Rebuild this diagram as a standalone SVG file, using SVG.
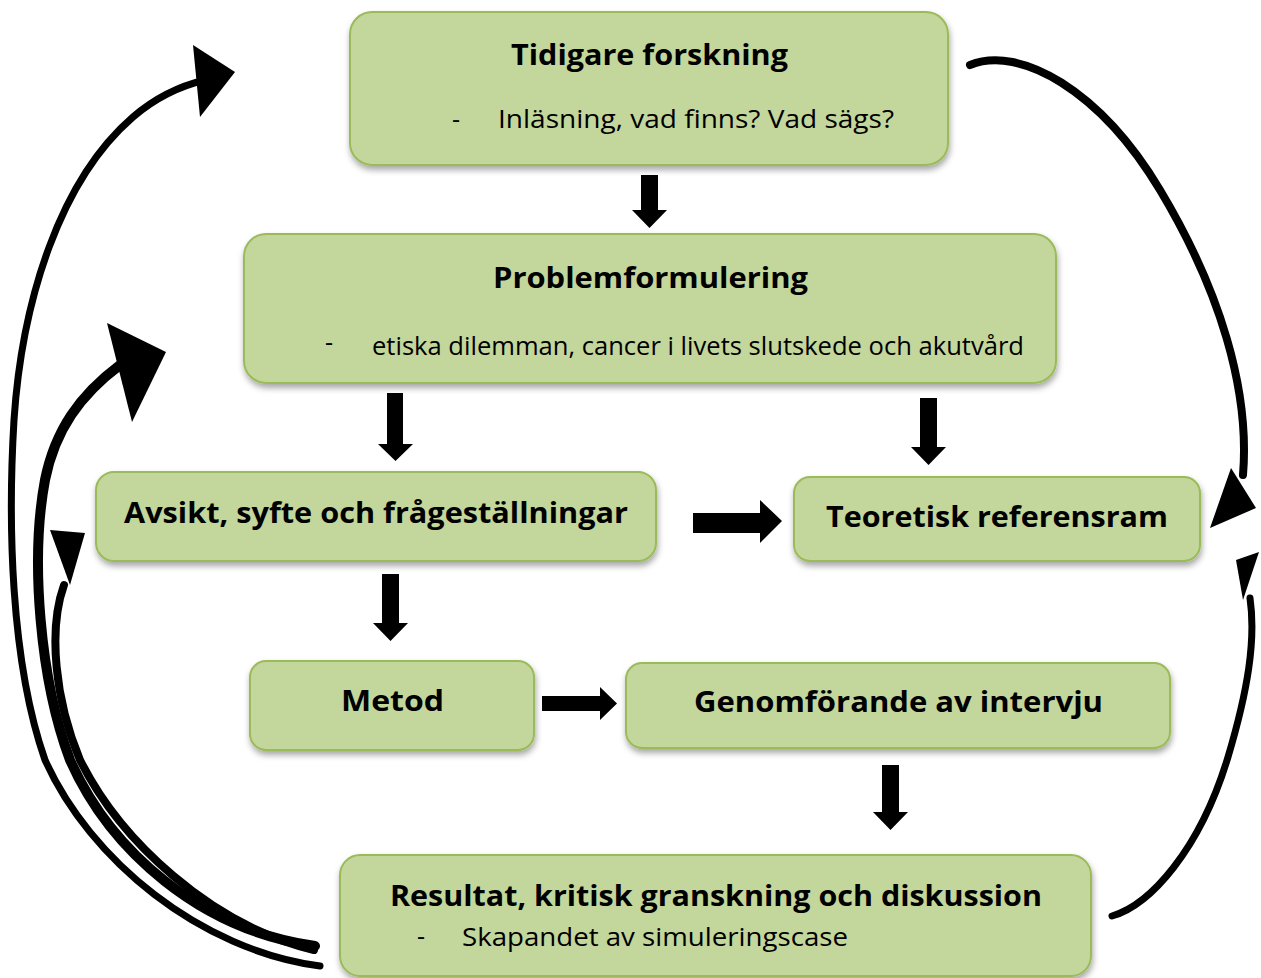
<svg xmlns="http://www.w3.org/2000/svg" width="1261" height="978" viewBox="0 0 1261 978">
<defs>
<filter id="sh" x="-10%" y="-10%" width="120%" height="130%">
<feDropShadow dx="1" dy="4" stdDeviation="3" flood-color="#000" flood-opacity="0.35"/>
</filter>
<style>
.box{fill:#c3d69b;stroke:#9bbb59;stroke-width:2;filter:url(#sh)}
.t{font-family:"Open Sans","Liberation Sans",sans-serif;font-weight:bold;font-size:29px;fill:#000}
.s{font-family:"Open Sans","Liberation Sans",sans-serif;font-size:25px;fill:#000}
.blk{fill:#000}
.cv{fill:none;stroke:#000;stroke-linecap:round}
</style>
</defs>
<rect width="1261" height="978" fill="#fff"/>

<g id="connectors">
<polygon class="blk" points="641,175 658,175 658,210 667,210 649.5,228 632,210 641,210"/>
<polygon class="blk" points="387,393 403,393 403,444 413,444 395.5,461 378,444 387,444"/>
<polygon class="blk" points="920,398 937,398 937,447 946,447 928.5,465 911,447 920,447"/>
<polygon class="blk" points="382,574 399,574 399,623 408,623 390.5,641 373,623 382,623"/>
<polygon class="blk" points="882,765 899,765 899,812 908,812 890.5,830 873,812 882,812"/>
<polygon class="blk" points="693,513 760,513 760,500 782,521 760,543 760,533 693,533"/>
<polygon class="blk" points="542,696 600,696 600,687 617,703.5 600,720 600,711 542,711"/>

<path class="cv" stroke-width="7" d="M320,966 C200,950 90,860 45,760 C10,660 8,520 14,420 C22,300 60,180 133,117 C155,98 180,86 205,80"/>
<polygon class="blk" points="193,45 235,72 200,117"/>
<path class="cv" stroke-width="10" d="M315,946 C200,930 110,850 70,760 C40,680 30,560 45,480 C55,430 80,395 120,365"/>
<polygon class="blk" points="107,323 166,352 132,422"/>
<path class="cv" stroke-width="8" d="M314,950 C210,925 120,840 80,760 C55,700 48,630 64,585"/>
<polygon class="blk" points="50,530 85,533 70,585"/>

<path class="cv" stroke-width="8" d="M970,65 C1020,45 1100,90 1160,190 C1220,290 1250,390 1243,475"/>
<polygon class="blk" points="1210,528 1231,468 1256,508"/>
<path class="cv" stroke-width="7" d="M1112,916 C1150,905 1200,850 1228,757 C1248,690 1256,640 1250,598"/>
<polygon class="blk" points="1236,560 1259,552 1243,600"/>
</g>

<g id="n1">
<rect class="box" x="350" y="12" width="598" height="153" rx="22"/>
<text class="t" x="511" y="65" textLength="277" lengthAdjust="spacingAndGlyphs">Tidigare forskning</text>
<text class="s" x="452" y="128">-</text>
<text class="s" x="498" y="128" textLength="396" lengthAdjust="spacingAndGlyphs">Inläsning, vad finns? Vad sägs?</text>
</g>

<g id="n2">
<rect class="box" x="244" y="234" width="812" height="149" rx="22"/>
<text class="t" x="493" y="288" textLength="315" lengthAdjust="spacingAndGlyphs">Problemformulering</text>
<text class="s" x="325" y="351">-</text>
<text class="s" x="372" y="355" font-size="24" textLength="652" lengthAdjust="spacingAndGlyphs">etiska dilemman, cancer i livets slutskede och akutvård</text>
</g>

<g id="n3">
<rect class="box" x="96" y="472" width="560" height="89" rx="18"/>
<text class="t" x="124" y="523" textLength="504" lengthAdjust="spacingAndGlyphs">Avsikt, syfte och frågeställningar</text>
</g>

<g id="n4">
<rect class="box" x="794" y="477" width="406" height="84" rx="16"/>
<text class="t" x="826" y="527" textLength="342" lengthAdjust="spacingAndGlyphs">Teoretisk referensram</text>
</g>

<g id="n5">
<rect class="box" x="250" y="661" width="284" height="89" rx="16"/>
<text class="t" x="341" y="711" textLength="103" lengthAdjust="spacingAndGlyphs">Metod</text>
</g>

<g id="n6">
<rect class="box" x="626" y="663" width="544" height="85" rx="16"/>
<text class="t" x="694" y="712" textLength="409" lengthAdjust="spacingAndGlyphs">Genomförande av intervju</text>
</g>

<g id="n7">
<rect class="box" x="340" y="855" width="751" height="121" rx="20"/>
<text class="t" x="390" y="906" textLength="652" lengthAdjust="spacingAndGlyphs">Resultat, kritisk granskning och diskussion</text>
<text class="s" x="417" y="945">-</text>
<text class="s" x="462" y="946" textLength="386" lengthAdjust="spacingAndGlyphs">Skapandet av simuleringscase</text>
</g>
</svg>
